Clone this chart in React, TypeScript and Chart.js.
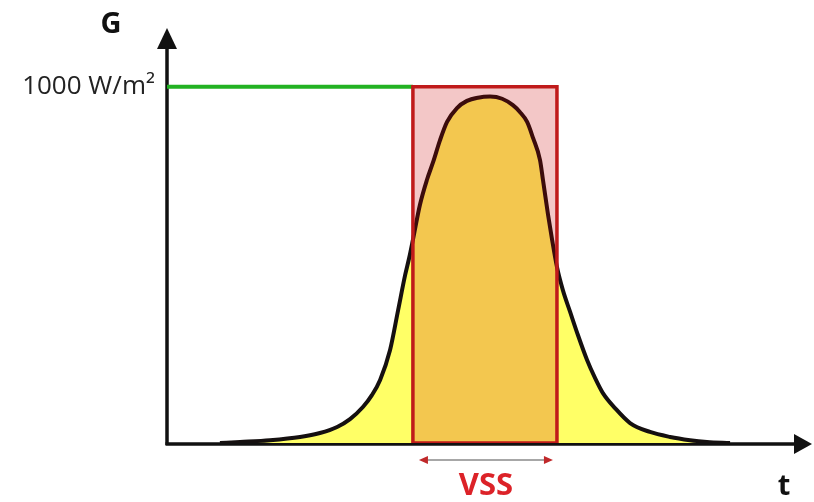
import React, { useEffect, useRef } from "react";
import { Chart, registerables } from "chart.js";

Chart.register(...registerables);

// Solar irradiance profile G(t) over a day (t in hours, G in W/m²)
const timeHours = [1.97, 2.72, 3.83, 4.95, 5.69, 6.33, 6.81, 7.29, 7.63, 7.93, 8.3, 8.6, 8.86, 9.01, 9.15, 9.41, 9.67, 9.9, 10.16, 10.42, 10.79, 11.16, 11.57, 12.02, 12.47, 12.87, 13.13, 13.4, 13.62, 13.88, 13.99, 14.18, 14.33, 14.51, 14.73, 15.0, 15.29, 15.63, 15.93, 16.22, 16.67, 17.23, 17.97, 18.72, 19.46, 20.09, 20.95];
const irradiance = [0, 3, 8, 17, 28, 45, 67, 101, 135, 177, 261, 373, 471, 519, 570, 668, 738, 788, 850, 901, 940, 960, 969, 972, 966, 948, 929, 901, 856, 794, 738, 640, 570, 494, 429, 368, 303, 233, 182, 140, 98, 56, 31, 17, 8, 3, 0];

// VSS window
const vssStart = 9.15;
const vssEnd = 14.51;
const stcLevel = 1000;

// Axis ranges and ticks
const tRange = [0, 24];
const gRange = [0, 1100];
const yTickValues = [1000];
const yTickLabels = ["1000 W/m²"];

const FONT = "'Open Sans', 'DejaVu Sans', sans-serif";

const decorPlugin = {
  id: "decor",
  beforeDatasetsDraw(chart: any) {
    const { ctx, chartArea } = chart;
    const { left, right, bottom } = chartArea;
    ctx.save();
    ctx.strokeStyle = "#111";
    ctx.fillStyle = "#111";
    ctx.lineWidth = 3.5;
    // y axis
    ctx.beginPath();
    ctx.moveTo(left, bottom + 2);
    ctx.lineTo(left, 46);
    ctx.stroke();
    ctx.beginPath();
    ctx.moveTo(left, 28);
    ctx.lineTo(left - 10, 49);
    ctx.lineTo(left + 10, 49);
    ctx.closePath();
    ctx.fill();
    // x axis
    const ay = bottom + 1;
    ctx.beginPath();
    ctx.moveTo(left - 1.5, ay);
    ctx.lineTo(right - 14, ay);
    ctx.stroke();
    ctx.beginPath();
    ctx.moveTo(right, ay);
    ctx.lineTo(right - 18, ay - 10);
    ctx.lineTo(right - 18, ay + 10);
    ctx.closePath();
    ctx.fill();
    ctx.restore();
  },
  afterDatasetsDraw(chart: any) {
    const { ctx, chartArea, scales } = chart;
    const { left, right, bottom } = chartArea;
    const xs = scales.x;
    ctx.save();
    ctx.textAlign = "center";
    ctx.textBaseline = "middle";
    ctx.fillStyle = "#111";
    ctx.font = `bold 29px ${FONT}`;
    ctx.fillText("G", left - 56, 25);
    ctx.fillText("t", right - 28, bottom + 44);

    // VSS double arrow
    const x1 = xs.getPixelForValue(vssStart) + 6;
    const x2 = xs.getPixelForValue(vssEnd) - 4;
    const ay = bottom + 17;
    ctx.strokeStyle = "#8a8a8a";
    ctx.lineWidth = 1.5;
    ctx.beginPath();
    ctx.moveTo(x1 + 4, ay);
    ctx.lineTo(x2 - 4, ay);
    ctx.stroke();
    ctx.fillStyle = "#c0282a";
    ctx.beginPath();
    ctx.moveTo(x1, ay);
    ctx.lineTo(x1 + 9, ay - 4);
    ctx.lineTo(x1 + 9, ay + 4);
    ctx.closePath();
    ctx.fill();
    ctx.beginPath();
    ctx.moveTo(x2, ay);
    ctx.lineTo(x2 - 9, ay - 4);
    ctx.lineTo(x2 - 9, ay + 4);
    ctx.closePath();
    ctx.fill();

    ctx.fillStyle = "#dc2228";
    ctx.font = `bold 31px ${FONT}`;
    ctx.fillText("VSS", (x1 + x2) / 2, bottom + 43);
    ctx.restore();
  },
};

export default function App() {
  const canvasRef = useRef<HTMLCanvasElement | null>(null);

  useEffect(() => {
    if (!canvasRef.current) return;
    const curve = timeHours.map((t, i) => ({ x: t, y: irradiance[i] }));
    const rectTop = [
      { x: vssStart, y: stcLevel },
      { x: vssEnd, y: stcLevel },
    ];
    const rectOutline = [
      { x: vssStart, y: 0 },
      { x: vssStart, y: stcLevel },
      { x: vssEnd, y: stcLevel },
      { x: vssEnd, y: 0 },
      { x: vssStart, y: 0 },
    ];
    const green = [
      { x: tRange[0], y: stcLevel },
      { x: vssStart, y: stcLevel },
    ];
    const chart = new Chart(canvasRef.current, {
      type: "line",
      data: {
        datasets: [
          {
            label: "G",
            data: curve,
            borderColor: "#151010",
            borderWidth: 4,
            backgroundColor: "#ffff66",
            fill: "origin",
            cubicInterpolationMode: "monotone",
            pointRadius: 0,
            order: 4,
          },
          {
            label: "1000",
            data: green,
            borderColor: "#22b222",
            borderWidth: 4,
            fill: false,
            pointRadius: 0,
            order: 3,
          },
          {
            label: "VSS area",
            data: rectTop,
            borderWidth: 0,
            borderColor: "rgba(0,0,0,0)",
            backgroundColor: "rgba(200,0,0,0.22)",
            fill: "origin",
            tension: 0,
            pointRadius: 0,
            order: 2,
          },
          {
            label: "VSS",
            data: rectOutline,
            borderColor: "#c01a1a",
            borderWidth: 3.5,
            fill: false,
            tension: 0,
            pointRadius: 0,
            borderJoinStyle: "miter",
            order: 1,
          },
        ],
      },
      options: {
        responsive: false,
        animation: false,
        layout: { padding: { left: 0, right: 2, top: 51, bottom: 59 } },
        plugins: {
          legend: { display: false },
          tooltip: { enabled: false },
        },
        scales: {
          x: {
            type: "linear",
            min: tRange[0],
            max: tRange[1],
            display: false,
          },
          y: {
            type: "linear",
            min: gRange[0],
            max: gRange[1],
            position: "left",
            grid: { display: false, drawTicks: false },
            border: { display: false },
            afterFit: (s: any) => {
              s.width = 167;
            },
            afterBuildTicks: (s: any) => {
              s.ticks = yTickValues.map((v) => ({ value: v }));
            },
            ticks: {
              padding: 12,
              color: "#222",
              font: { family: FONT, size: 26 },
              callback: (v: any) => {
                const i = yTickValues.indexOf(Number(v));
                return i >= 0 ? yTickLabels[i] : "";
              },
            },
          },
        },
      } as any,
      plugins: [decorPlugin],
    });
    return () => chart.destroy();
  }, []);

  return (
    <div style={{ position: "absolute", left: 0, top: 0, width: 814, height: 502, background: "#fff" }}>
      <canvas ref={canvasRef} width={814} height={502} />
    </div>
  );
}
